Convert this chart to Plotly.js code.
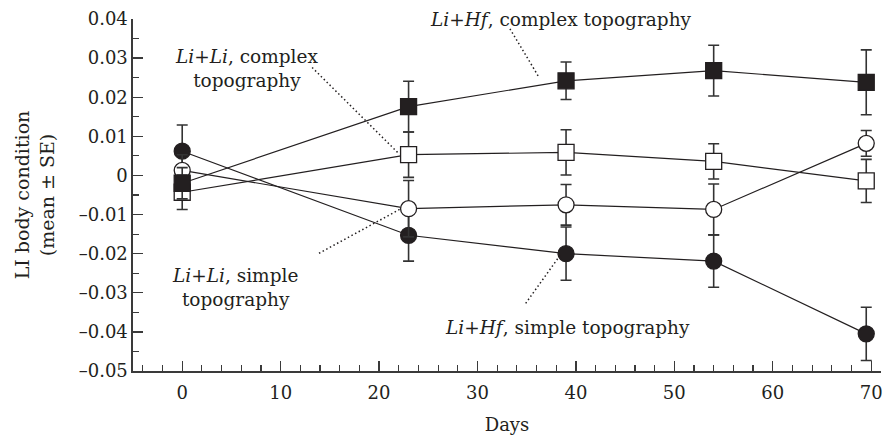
<!DOCTYPE html>
<html><head><meta charset="utf-8">
<script src="https://cdn.plot.ly/plotly-3.0.1.min.js"></script>
<style>html,body{margin:0;padding:0;background:#fff}</style>
</head><body>
<div id="chart" style="width:883px;height:438px"></div>
<script>
// Days of sampling
var daysCommon = [0, 23, 39, 54, 69.5];
// Li+Li, complex topography (open squares)
var liLiComplex = [-0.0043, 0.0053, 0.0059, 0.0036, -0.0014];
var liLiComplexSE = [0.0044, 0.0058, 0.0058, 0.0045, 0.0055];
// Li+Li, simple topography (open circles)
var liLiSimple = [0.0013, -0.0085, -0.0075, -0.0087, 0.0082];
var liLiSimpleSE = [0.004, 0.0072, 0.0052, 0.0065, 0.0033];
// Li+Hf, complex topography (filled squares)
var liHfComplex = [-0.0020, 0.0176, 0.0242, 0.0268, 0.0238];
var liHfComplexSE = [0.004, 0.0065, 0.0048, 0.0065, 0.0083];
// Li+Hf, simple topography (filled circles)
var liHfSimple = [0.0062, -0.0153, -0.0200, -0.0219, -0.0405];
var liHfSimpleSE = [0.0067, 0.0066, 0.0068, 0.0067, 0.0068];

// Axis tick labels
var yTickVals = [0.04, 0.03, 0.02, 0.01, 0, -0.01, -0.02, -0.03, -0.04, -0.05];
var yTickText = ['0.04', '0.03', '0.02', '0.01', '0', '\u20130.01', '\u20130.02', '\u20130.03', '\u20130.04', '\u20130.05'];
var xTickVals = [0, 10, 20, 30, 40, 50, 60, 70];
var xTickText = ['0', '10', '20', '30', '40', '50', '60', '70'];

var ink = '#231f20';
var axisInk = '#3a3a3a';
var font = 'DejaVu Serif, serif';

function trace(y, se, symbol, fill) {
  return {
    x: daysCommon, y: y, type: 'scatter', mode: 'lines+markers',
    line: {color: ink, width: 1.2},
    marker: {symbol: symbol, size: 16, color: fill, line: {color: ink, width: 1.3}},
    error_y: {type: 'data', array: se, visible: true, color: '#333', thickness: 1.6, width: 5.5},
    cliponaxis: false, showlegend: false
  };
}

// drawing order: filled circles, open circles, open squares, filled squares
var data = [
  trace(liHfSimple, liHfSimpleSE, 'circle', ink),
  trace(liLiSimple, liLiSimpleSE, 'circle', '#ffffff'),
  trace(liLiComplex, liLiComplexSE, 'square', '#ffffff'),
  trace(liHfComplex, liHfComplexSE, 'square', ink)
];

var dot = {color: ink, width: 1.5, dash: '1.5px,2.6px'};
var annFont = {family: font, size: 18.5, color: ink};
var layout = {
  width: 883, height: 438,
  margin: {l: 133, r: 2, t: 18.5, b: 67},
  paper_bgcolor: '#fff', plot_bgcolor: '#fff',
  font: {family: font, color: ink, size: 18},
  xaxis: {
    range: [-5, 71], showgrid: false, zeroline: false,
    showline: true, linecolor: axisInk, linewidth: 1.6,
    ticks: 'inside', ticklen: 10, tickwidth: 1.3, tickcolor: axisInk,
    tickmode: 'array', tickvals: xTickVals, ticktext: xTickText,
    minor: {ticks: 'inside', ticklen: 6, dtick: 2, tick0: 0, tickwidth: 1.2, tickcolor: axisInk, showgrid: false},
    tickfont: {family: font, size: 18, color: ink},
    ticklabelstandoff: 5, ticklabeloverflow: 'allow',
    title: {text: 'Days', font: {family: font, size: 18, color: ink}, standoff: 16}
  },
  yaxis: {
    range: [-0.05, 0.04], showgrid: false, zeroline: false,
    showline: true, linecolor: axisInk, linewidth: 1.6,
    ticks: 'inside', ticklen: 10, tickwidth: 1.3, tickcolor: axisInk,
    tickmode: 'array', tickvals: yTickVals, ticktext: yTickText,
    minor: {ticks: 'inside', ticklen: 6, dtick: 0.005, tick0: 0, tickwidth: 1.2, tickcolor: axisInk, showgrid: false},
    tickfont: {family: font, size: 18, color: ink},
    ticklabelstandoff: 0, ticklabeloverflow: 'allow',
    title: {text: 'LI body condition<br>(mean ± SE)', font: {family: font, size: 19, color: ink}, standoff: 19}
  },
  shapes: [
    {type: 'line', xref: 'x', yref: 'y', x0: 33.3, y0: 0.0375, x1: 36.2, y1: 0.0253, line: dot},
    {type: 'line', xref: 'x', yref: 'y', x0: 13.2, y0: 0.0276, x1: 22.0, y1: 0.0056, line: dot},
    {type: 'line', xref: 'x', yref: 'y', x0: 13.9, y0: -0.0199, x1: 22.3, y1: -0.0084, line: dot},
    {type: 'line', xref: 'x', yref: 'y', x0: 34.9, y0: -0.0327, x1: 38.4, y1: -0.0204, line: dot}
  ],
  annotations: [
    {x: 38.5, y: 0.0398, xref: 'x', yref: 'y', showarrow: false, xanchor: 'center', yanchor: 'middle',
     font: annFont, text: '<i>Li</i>+<i>Hf</i>, complex topography'},
    {x: 6.5, y: 0.0273, xref: 'x', yref: 'y', showarrow: false, xanchor: 'center', yanchor: 'middle',
     font: annFont, text: '<i>Li</i>+<i>Li</i>, complex<br>topography'},
    {x: 5.4, y: -0.0286, xref: 'x', yref: 'y', showarrow: false, xanchor: 'center', yanchor: 'middle',
     font: annFont, text: '<i>Li</i>+<i>Li</i>, simple<br>topography'},
    {x: 39.1, y: -0.0388, xref: 'x', yref: 'y', showarrow: false, xanchor: 'center', yanchor: 'middle',
     font: annFont, text: '<i>Li</i>+<i>Hf</i>, simple topography'}
  ]
};

Plotly.newPlot('chart', data, layout, {displayModeBar: false, staticPlot: true});
</script>
</body></html>
